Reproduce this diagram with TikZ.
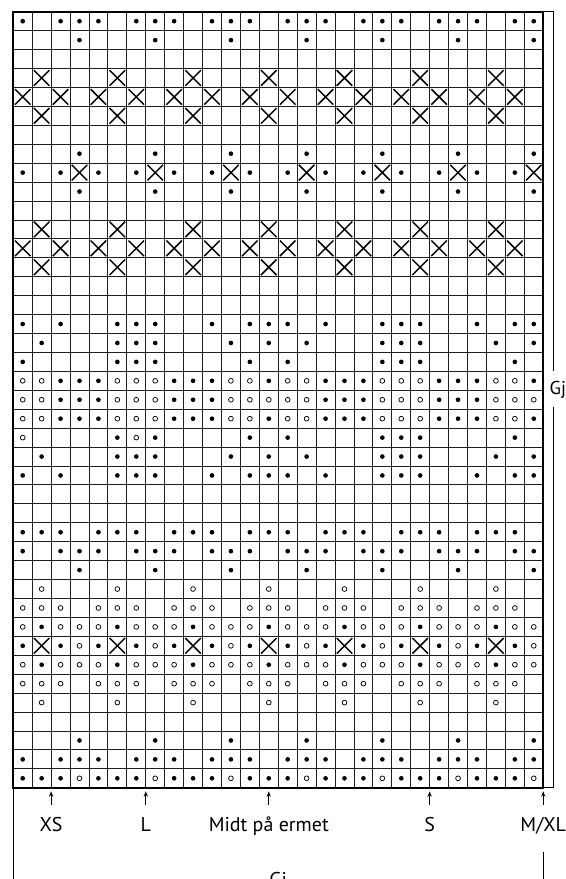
\documentclass[tikz,border=0pt]{standalone}
\usepackage{fontspec}
\setmainfont{PT Sans}
\usetikzlibrary{arrows.meta,positioning}

% one chart row: - empty, b dot, o ring, x cross
\newcount\knitcol
\def\knitrow#1{\ifx\relax#1\else
  \advance\knitcol by 1
  \csname knit#1\endcsname
  \expandafter\knitrow\fi}
\def\knitb{\fill (\the\knitcol-.5,\y-.5) circle[radius=1.75pt];}
\def\knito{\draw[line width=.55pt] (\the\knitcol-.5,\y-.5) circle[radius=1.8pt];}
\def\knitx{\draw[line width=1.1pt] (\the\knitcol-.91,\y-.91) -- (\the\knitcol-.09,\y-.09)
  (\the\knitcol-.91,\y-.09) -- (\the\knitcol-.09,\y-.91);}
\expandafter\def\csname knit-\endcsname{}

\tikzset{
  gridln/.style={line width=.65pt,black!88},
  frame/.style={line width=1.8pt},
  brk/.style={line width=.75pt},
  lbl/.style={font=\fontsize{15}{17}\selectfont,text height=10.5pt,text depth=3pt,
              inner xsep=0pt,inner ysep=9.5pt},
  arr/.style={-{Stealth[length=4pt,width=3.2pt]},line width=.75pt},
}

\begin{document}
\begin{tikzpicture}[x=0.5cm,y=-0.5cm]
    \useasboundingbox (-0.70,-0.62) rectangle (29.20,45.82);

    % grid
    \foreach \i in {1,...,27} \draw[gridln] (\i,0) -- (\i,41);
    \foreach \j in {1,...,40} \draw[gridln] (0,\j) -- (28,\j);

    % symbols (empty rows left out)
    \foreach \y/\pat in {
      1/b-bb b-bb b-bb b-bb b-bb b-bb b-bb,
      2/---b ---b ---b ---b ---b ---b ---b,
      4/-x-- -x-- -x-- -x-- -x-- -x-- -x--,
      5/x-x- x-x- x-x- x-x- x-x- x-x- x-x-,
      6/-x-- -x-- -x-- -x-- -x-- -x-- -x--,
      8/---b ---b ---b ---b ---b ---b ---b,
      9/b-bx b-bx b-bx b-bx b-bx b-bx b-bx,
      10/---b ---b ---b ---b ---b ---b ---b,
      12/-x-- -x-- -x-- -x-- -x-- -x-- -x--,
      13/x-x- x-x- x-x- x-x- x-x- x-x- x-x-,
      14/-x-- -x-- -x-- -x-- -x-- -x-- -x--,
      17/b-b- -bbb --b- bbb- b--b bb-- b-bb,
      18/-b-- -bbb ---b -b-b ---b bb-- -b-b,
      19/b--- -bbb ---- b-b- ---b bb-- --b-,
      20/oobb booo bbbo oboo bbbo oobb boob,
      21/oobb booo bbbo oooo bbbo oobb booo,
      22/oobb booo bbbo oboo bbbo oobb boob,
      23/o--- -bob ---- b-b- ---b bb-- --b-,
      24/-b-- -bbb ---b -b-b ---b bb-- -b-b,
      25/b-b- -bbb --b- bbb- b--b bb-- b-bb,
      28/bbb- bbb- bbb- bbb- bbb- bbb- bbb-,
      29/b-bb b-bb b-bb b-bb b-bb b-bb b-bb,
      30/---b ---b ---b ---b ---b ---b ---b,
      31/-o-- -o-- -o-- -o-- -o-- -o-- -o--,
      32/ooo- ooo- ooo- ooo- ooo- ooo- ooo-,
      33/oboo oboo oboo oboo oboo oboo oboo,
      34/bxbo bxbo bxbo bxbo bxbo bxbo bxbo,
      35/oboo oboo oboo oboo oboo oboo oboo,
      36/ooo- ooo- ooo- ooo- ooo- ooo- ooo-,
      37/-o-- -o-- -o-- -o-- -o-- -o-- -o--,
      39/---b ---b ---b ---b ---b ---b ---b,
      40/b-bb b-bb b-bb b-bb b-bb b-bb b-bb,
      41/bbbo bbbo bbbo bbbo bbbo bbbo bbbo}
      {\knitcol=0 \expandafter\knitrow\pat\relax}

    \draw[frame] (0,0) rectangle (28,41);

    % repeat bracket on the right
    \draw[brk] (28,0) -- (28.53,0) -- (28.53,19.0);
    \draw[brk] (28.53,20.9) -- (28.53,41) -- (28,41);
    \node[lbl,font=\fontsize{14}{16}\selectfont,inner sep=0pt] (gjr) at (28.77,19.98) {Gj};

    % size marks
    \coordinate (pxs) at (2,41.19);
    \coordinate (pl) at (7,41.19);
    \coordinate (pmidt) at (13.5,41.19);
    \coordinate (ps) at (22,41.19);
    \coordinate (pmxl) at (28,41.19);
    \node[lbl,below=0.35cm of pxs] (xs) {XS};
    \node[lbl,below=0.35cm of pl] (l) {L};
    \node[lbl,below=0.35cm of pmidt] (midt) {Midt på ermet};
    \node[lbl,below=0.35cm of ps] (s) {S};
    \node[lbl,below=0.35cm of pmxl] (mxl) {M/XL};
    \foreach \t in {xs,l,midt,s,mxl} \draw[arr] (\t) -- (p\t);

    % width bracket, cut by the page edge
    \draw[brk] (0,41) -- (0,46.2);
    \draw[brk] (28,44.39) -- (28,46.2);
    \node[lbl,anchor=north,inner sep=0pt] (gjb) at (14,45.45) {Gj};
\end{tikzpicture}
\end{document}
